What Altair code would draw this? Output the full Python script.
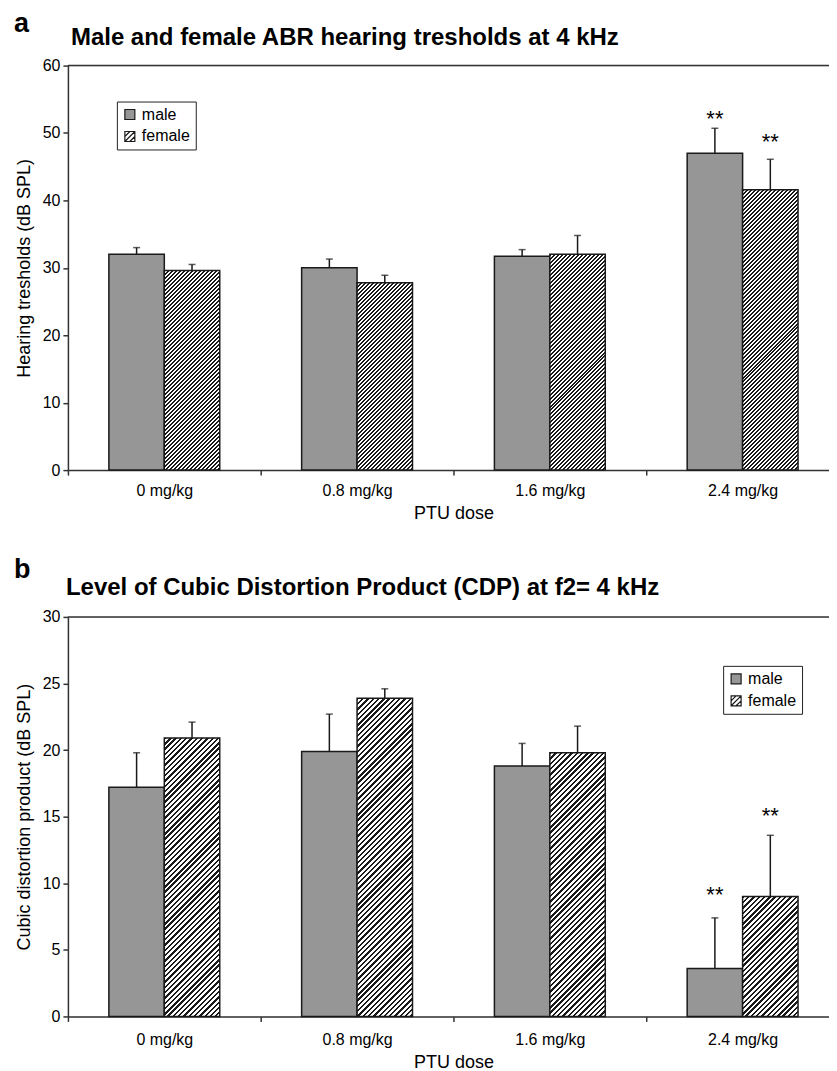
import altair as alt

FONT = "Liberation Sans, Arial, Helvetica, sans-serif"

# ---------------- data ----------------
doses = ["0 mg/kg", "0.8 mg/kg", "1.6 mg/kg", "2.4 mg/kg"]
sexes = ["male", "female"]

# (a) male and female ABR hearing thresholds at 4 kHz, dB SPL (mean, error)
abr_male = [32.0, 30.0, 31.7, 47.0]
abr_male_err = [1.0, 1.3, 1.0, 3.7]
abr_female = [29.6, 27.8, 32.0, 41.6]
abr_female_err = [0.9, 1.1, 2.8, 4.5]
abr_star_male = [None, None, None, 53.0]
abr_star_female = [None, None, None, 49.5]

# (b) level of cubic distortion product at f2 = 4 kHz, dB SPL (mean, error)
cdp_male = [17.2, 19.9, 18.8, 3.6]
cdp_male_err = [2.6, 2.8, 1.7, 3.8]
cdp_female = [20.9, 23.9, 19.8, 9.0]
cdp_female_err = [1.2, 0.7, 2.0, 4.6]
cdp_star_male = [None, None, None, 9.6]
cdp_star_female = [None, None, None, 15.5]

# ---------------- styling ----------------
PLOT_W = 772          # the figure's plot runs on past the right edge of the page
BAR_W = 55.5
STEP = PLOT_W / len(doses)
OUTER = (STEP / BAR_W - 2) / 2
GRAY = "#969696"
INK = "#1a1a1a"
AXIS_C = "#333333"

SQUARE = "M-1,-1H1V1H-1Z"
SQUARE_HATCH = "M-1,-1H1V1H-1Z M-1,1L1,-1 M-1,0L0,-1 M0,1L1,0"


def hatch(w, h, period, dark):
    """Linear gradient with hard stops, giving 45-degree '/' stripes on a w x h box."""
    total = w + h
    k = total / (w * w + h * h)
    stops = []
    c = 0.0
    while c < total:
        o0 = min(c / total, 1.0)
        o1 = min((c + period * dark) / total, 1.0)
        o2 = min((c + period) / total, 1.0)
        stops += [
            {"offset": o0, "color": INK},
            {"offset": o1, "color": INK},
            {"offset": o1, "color": "#ffffff"},
            {"offset": o2, "color": "#ffffff"},
        ]
        c += period
    return {"gradient": "linear", "x1": 0, "y1": 0, "x2": w * k, "y2": h * k, "stops": stops}


def panel(letter, title, ytitle, ymax, ystep, height, male, male_err, female, female_err,
          star_m, star_f, leg_x, leg_y, period, dark, xlab_pad,
          letter_y, title_x, title_y):
    ppu = height / ymax
    rows = []
    for i, d in enumerate(doses):
        for s, vals, errs in (("male", male, male_err), ("female", female, female_err)):
            v = vals[i]
            paint = GRAY if s == "male" else hatch(BAR_W, v * ppu, period, dark)
            rows.append({"dose": d, "sex": s, "value": v, "top": v + errs[i], "paint": paint})
    stars = []
    for i, d in enumerate(doses):
        if star_m[i] is not None:
            stars.append({"dose": d, "sex": "male", "level": star_m[i], "sig": "**"})
        if star_f[i] is not None:
            stars.append({"dose": d, "sex": "female", "level": star_f[i], "sig": "**"})

    bars_data = alt.Data(values=rows)
    xaxis = alt.Axis(labelAngle=0, tickBand="extent", ticks=True, tickSize=5, tickWidth=1.5,
                     tickColor=AXIS_C, domainColor=AXIS_C, domainWidth=1.5, grid=False,
                     labelFontSize=16, labelColor="black", labelFont=FONT, labelPadding=xlab_pad,
                     titleFontSize=18, titleFontWeight="normal", titleColor="black",
                     titleFont=FONT, titlePadding=6)
    yaxis = alt.Axis(values=list(range(0, ymax + 1, ystep)), tickSize=5, tickWidth=1.5,
                     tickColor=AXIS_C, domainColor=AXIS_C, domainWidth=1.5, grid=False,
                     labelFontSize=16, labelColor="black", labelFont=FONT, labelPadding=3,
                     titleFontSize=18, titleFontWeight="normal", titleColor="black",
                     titleFont=FONT, titlePadding=9)

    def X():
        return alt.X("dose:N", scale=alt.Scale(domain=doses, paddingInner=0, paddingOuter=0),
                     axis=xaxis, title="PTU dose")

    def XO():
        return alt.XOffset("sex:N", scale=alt.Scale(domain=sexes, paddingInner=0, paddingOuter=OUTER))

    def Y(field):
        return alt.Y(field, scale=alt.Scale(domain=[0, ymax], nice=False, zero=True),
                     axis=yaxis, title=ytitle)

    bars = alt.Chart(bars_data).mark_bar(stroke=INK, strokeWidth=1.5).encode(
        x=X(), xOffset=XO(), y=Y("value:Q"),
        fill=alt.Fill("paint:N", scale=None),
    )
    stems = alt.Chart(bars_data).mark_rule(color=INK, strokeWidth=1.5).encode(
        x=X(), xOffset=XO(), y=Y("value:Q"), y2="top:Q"
    )
    caps = alt.Chart(bars_data).mark_tick(color=INK, size=7, thickness=1.5).encode(
        x=X(), xOffset=XO(), y=Y("top:Q")
    )
    leg = alt.Legend(title=None, orient="none", legendX=leg_x, legendY=leg_y, direction="vertical",
                     strokeColor="#222222", fillColor="white", padding=5, rowPadding=6,
                     labelFontSize=16, labelFont=FONT, labelColor="black", labelOffset=4,
                     symbolSize=100, symbolStrokeWidth=1.2, symbolStrokeColor=INK,
                     symbolOpacity=1)
    keys = alt.Chart(bars_data).mark_point(filled=True, strokeWidth=1.2, size=100).encode(
        x=X(), xOffset=XO(), y=Y("value:Q"),
        color=alt.Color("sex:N", scale=alt.Scale(domain=sexes, range=[GRAY, "#ffffff"]), legend=leg),
        shape=alt.Shape("sex:N", scale=alt.Scale(domain=sexes, range=[SQUARE, SQUARE_HATCH]), legend=leg),
        stroke=alt.Stroke("sex:N", scale=alt.Scale(domain=sexes, range=[INK, INK]), legend=leg),
        opacity=alt.value(0),
    )
    sig = alt.Chart(alt.Data(values=stars)).mark_text(
        font=FONT, fontSize=22, color="black", baseline="alphabetic", dy=13
    ).encode(x=X(), xOffset=XO(), y=Y("level:Q"), text="sig:N")
    one = alt.Data(values=[{"panel": letter, "heading": title}])
    frame_top = alt.Chart(one).mark_rule(color=AXIS_C, strokeWidth=1.5).encode(y=alt.datum(ymax))
    tag = alt.Chart(one).mark_text(
        font=FONT, fontSize=27, fontWeight="bold", color="black", align="left", baseline="alphabetic"
    ).encode(x=alt.value(-54), y=alt.value(letter_y), text="panel:N")
    heading = alt.Chart(one).mark_text(
        font=FONT, fontSize=24, fontWeight="bold", color="black", align="left", baseline="alphabetic"
    ).encode(x=alt.value(title_x), y=alt.value(title_y), text="heading:N")

    return alt.layer(bars, stems, caps, keys, sig, frame_top, tag, heading).properties(
        width=PLOT_W, height=height,
    )


panel_a = panel("a", "Male and female ABR hearing tresholds at 4 kHz", "Hearing tresholds (dB SPL)",
                60, 10, 405, abr_male, abr_male_err, abr_female, abr_female_err,
                abr_star_male, abr_star_female, 49, 36, 4.0, 0.5, 7,
                -34, 3, -21)
panel_b = panel("b", "Level of Cubic Distortion Product (CDP) at f2= 4 kHz",
                "Cubic distortion product (dB SPL)",
                30, 5, 400, cdp_male, cdp_male_err, cdp_female, cdp_female_err,
                cdp_star_male, cdp_star_female, 656, 49, 5.3, 0.45, 10,
                -39, -2, -22)

# the right padding is negative so that the page edge cuts the plot, as in the figure
chart = alt.vconcat(panel_a, panel_b, spacing=32).resolve_scale(
    color="independent", shape="independent", stroke="independent",
    x="independent", y="independent"
).properties(
    padding={"left": 5, "top": 0, "right": -12, "bottom": 0}
).configure_view(stroke=None).configure(font=FONT, background="white")

chart.save("out.html", embed_options={"renderer": "svg", "actions": False})
